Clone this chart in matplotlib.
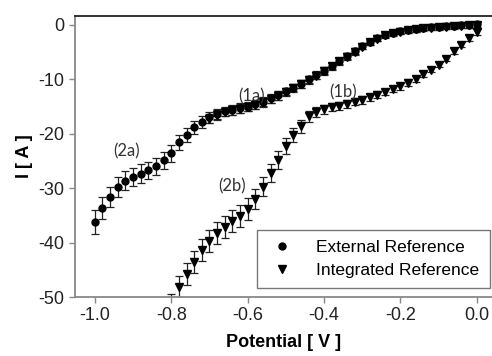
import matplotlib
matplotlib.use("Agg")
import matplotlib.pyplot as plt
from matplotlib.lines import Line2D
import numpy as np

# External Reference (circles)
ext_x = [-1.00, -0.98, -0.96, -0.94, -0.92, -0.90, -0.88, -0.86, -0.84, -0.82,
         -0.80, -0.78, -0.76, -0.74, -0.72, -0.70, -0.68, -0.66, -0.64, -0.62,
         -0.60, -0.58, -0.56, -0.54, -0.52, -0.50, -0.48, -0.46, -0.44, -0.42,
         -0.40, -0.38, -0.36, -0.34, -0.32, -0.30, -0.28, -0.26, -0.24, -0.22,
         -0.20, -0.18, -0.16, -0.14, -0.12, -0.10, -0.08, -0.06, -0.04, -0.02, 0.00]
ext_y = [-36.3, -33.7, -31.6, -29.8, -28.6, -27.9, -27.3, -26.7, -26.0, -24.9,
         -23.6, -21.6, -20.2, -18.8, -17.8, -17.0, -16.4, -15.9, -15.6, -15.3,
         -15.0, -14.6, -14.1, -13.5, -12.9, -12.2, -11.5, -10.8, -10.0, -9.2,
         -8.4, -7.5, -6.6, -5.7, -4.8, -3.9, -3.1, -2.4, -1.8, -1.4,
         -1.1, -0.9, -0.7, -0.5, -0.4, -0.3, -0.2, -0.1, 0.0, 0.0, 0.1]
ext_err = [2.2, 2.0, 1.9, 1.8, 1.7, 1.7, 1.7, 1.6, 1.6, 1.5,
           1.5, 1.4, 1.3, 1.2, 1.1, 1.0, 1.0, 0.9, 0.9, 0.9,
           0.8, 0.8, 0.8, 0.8, 0.8, 0.7, 0.7, 0.7, 0.7, 0.7,
           0.6, 0.6, 0.6, 0.6, 0.6, 0.5, 0.5, 0.5, 0.5, 0.5,
           0.5, 0.5, 0.5, 0.5, 0.5, 0.5, 0.5, 0.5, 0.5, 0.5, 0.5]

# Integrated Reference (triangles): lower (cathodic) branch from 0 to -0.80
int_low_x = [0.00, -0.02, -0.04, -0.06, -0.08, -0.10, -0.12, -0.14, -0.16, -0.18,
             -0.20, -0.22, -0.24, -0.26, -0.28, -0.30, -0.32, -0.34, -0.36, -0.38,
             -0.40, -0.42, -0.44, -0.46, -0.48, -0.50, -0.52, -0.54, -0.56, -0.58,
             -0.60, -0.62, -0.64, -0.66, -0.68, -0.70, -0.72, -0.74, -0.76, -0.78, -0.80]
int_low_y = [-1.3, -2.4, -3.6, -4.8, -6.2, -7.3, -8.2, -9.0, -9.9, -10.6,
             -11.3, -11.8, -12.3, -12.8, -13.3, -13.8, -14.1, -14.5, -14.9, -15.1,
             -15.5, -16.0, -16.8, -18.6, -20.3, -22.3, -24.8, -27.2, -29.7, -32.0,
             -33.8, -35.1, -36.1, -37.1, -38.3, -39.7, -41.4, -43.5, -45.8, -48.2, -51.5]
int_low_err = [0.5, 0.5, 0.5, 0.5, 0.5, 0.5, 0.5, 0.6, 0.6, 0.6,
               0.6, 0.6, 0.6, 0.7, 0.7, 0.7, 0.7, 0.7, 0.8, 0.8,
               0.8, 0.9, 1.0, 1.2, 1.3, 1.5, 1.6, 1.7, 1.8, 1.9,
               2.0, 2.0, 2.0, 2.0, 2.0, 2.0, 2.0, 2.0, 2.0, 2.0, 2.0]

# Integrated Reference: upper (return) branch from -0.70 to 0
int_up_x = [-0.70, -0.68, -0.66, -0.64, -0.62, -0.60, -0.58, -0.56, -0.54, -0.52,
            -0.50, -0.48, -0.46, -0.44, -0.42, -0.40, -0.38, -0.36, -0.34, -0.32,
            -0.30, -0.28, -0.26, -0.24, -0.22, -0.20, -0.18, -0.16, -0.14, -0.12,
            -0.10, -0.08, -0.06, -0.04, -0.02, 0.00]
int_up_y = [-17.2, -16.5, -16.0, -15.7, -15.4, -15.1, -14.7, -14.2, -13.6, -13.0,
            -12.3, -11.6, -10.9, -10.1, -9.3, -8.5, -7.6, -6.7, -5.8, -4.9,
            -4.0, -3.2, -2.5, -1.9, -1.5, -1.2, -1.0, -0.8, -0.6, -0.5,
            -0.4, -0.3, -0.2, -0.1, 0.0, 0.0]
int_up_err = [0.8] * 10 + [0.7] * 10 + [0.5] * 16

labels = ["(1a)", "(1b)", "(2a)", "(2b)"]
label_x = [-0.589, -0.350, -0.916, -0.641]
label_y = [-13.2, -12.3, -23.3, -29.7]

xticks = [-1.0, -0.8, -0.6, -0.4, -0.2, 0.0]
xticklabels = ["-1.0", "-0.8", "-0.6", "-0.4", "-0.2", "0.0"]
yticks = [0, -10, -20, -30, -40, -50]

plt.rcParams['font.family'] = ['Liberation Sans', 'DejaVu Sans']
plt.rcParams['axes.unicode_minus'] = False

fig = plt.figure(figsize=(4.92, 3.56), dpi=100)
ax = fig.add_axes([75 / 492, 1 - 297 / 356, 1 - 75 / 492, (297 - 16) / 356])

ebkw = dict(ecolor='#222222', elinewidth=0.9, capsize=3, capthick=0.9,
            linestyle='none', color='black', clip_on=True)
ax.errorbar(ext_x, ext_y, yerr=ext_err, marker='o', markersize=5, **ebkw)
ax.errorbar(int_low_x, int_low_y, yerr=int_low_err, marker='v', markersize=6, **ebkw)
ax.errorbar(int_up_x, int_up_y, yerr=int_up_err, marker='v', markersize=6, **ebkw)

for t, x, y in zip(labels, label_x, label_y):
    ax.text(x, y, t, fontsize=12, color='#333333', ha='center', va='center',
            family=['Lato', 'DejaVu Sans'])

ax.set_xlim(-1.052, 0.04)
ax.set_ylim(-50, 1.65)
ax.set_xticks(xticks)
ax.set_xticklabels(xticklabels)
ax.set_yticks(yticks)

ax.spines['right'].set_visible(False)
ax.spines['top'].set_color('#222222')
ax.spines['left'].set_color('#888888')
ax.spines['bottom'].set_color('#888888')
for s in ['top', 'left', 'bottom']:
    ax.spines[s].set_linewidth(1.3)
ax.tick_params(direction='out', length=4, width=1, color='#888888',
               labelsize=13, labelcolor='#222222')

ax.set_xlabel("Potential [ V ]", fontsize=13, fontweight='bold', labelpad=7)
ax.set_ylabel("I [ A ]", fontsize=13, fontweight='bold', labelpad=4)

handles = [Line2D([], [], marker='o', color='black', linestyle='none', markersize=5),
           Line2D([], [], marker='v', color='black', linestyle='none', markersize=6)]
leg = ax.legend(handles, ["External Reference", "Integrated Reference"],
                loc='lower right', fontsize=12.5, frameon=True,
                fancybox=False, edgecolor='#555555', borderpad=0.6,
                handletextpad=1.2, labelspacing=0.4, borderaxespad=0,
                handlelength=1.6)
leg.get_frame().set_linewidth(1.0)
leg.set_bbox_to_anchor((1.0 - 2 / 417, 9 / 281), transform=ax.transAxes)

fig.savefig("out.png", dpi=100)
